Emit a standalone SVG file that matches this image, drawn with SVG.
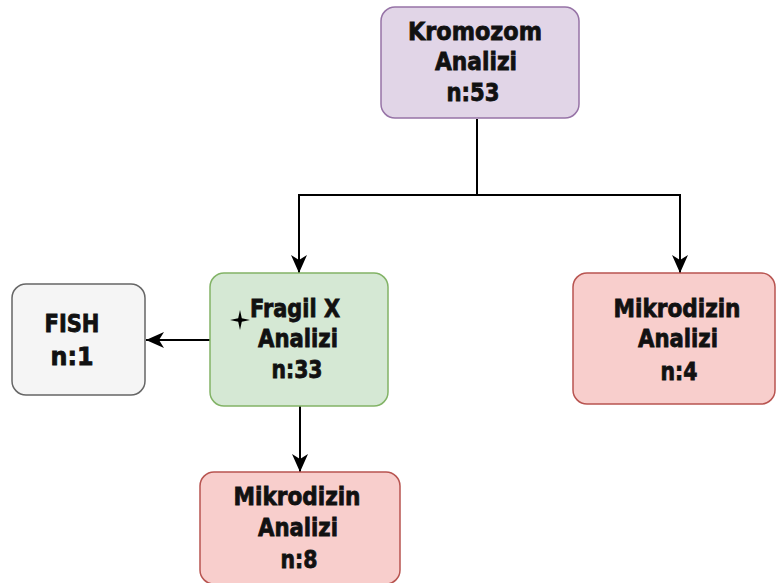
<svg xmlns="http://www.w3.org/2000/svg" width="776" height="583" viewBox="0 0 776 583">
<style>
.t{font-family:"DejaVu Sans","Liberation Sans",sans-serif;font-weight:bold;font-size:24px;fill:#111;stroke:#111;stroke-width:0.8;text-anchor:middle}
.c{fill:none;stroke:#000;stroke-width:2}
</style>
<defs>
<marker id="a" markerWidth="20" markerHeight="18" refX="18" refY="8" orient="auto" markerUnits="userSpaceOnUse">
<path d="M0,0 L18,8 L0,16 L5,8 Z" fill="#000"/>
</marker>
</defs>
<rect width="776" height="583" fill="#fff"/>
<g id="connectors">
<path class="c" d="M477,119 V195 H299 V273" marker-end="url(#a)"/>
<path class="c" d="M477,195 H680 V273" marker-end="url(#a)"/>
<path class="c" d="M210,340 H146" marker-end="url(#a)"/>
<path class="c" d="M300,406 V472" marker-end="url(#a)"/>
</g>
<g id="kromozom">
<rect x="381" y="7" width="198" height="111" rx="14" fill="#e1d5e7" stroke="#9673a6" stroke-width="1.5"/>
<text class="t" x="475" y="40" textLength="134" lengthAdjust="spacingAndGlyphs">Kromozom</text>
<text class="t" x="476" y="70" textLength="82" lengthAdjust="spacingAndGlyphs">Analizi</text>
<text class="t" x="473" y="101" textLength="53" lengthAdjust="spacingAndGlyphs">n:53</text>
</g>
<g id="fragil">
<rect x="210" y="273" width="178" height="133" rx="14" fill="#d5e8d4" stroke="#82b366" stroke-width="1.5"/>
<text class="t" x="295" y="317" textLength="90" lengthAdjust="spacingAndGlyphs">Fragil X</text>
<text class="t" x="298" y="347" textLength="80" lengthAdjust="spacingAndGlyphs">Analizi</text>
<text class="t" x="297" y="378" textLength="51" lengthAdjust="spacingAndGlyphs">n:33</text>
<path d="M240,310 L241.8,318.2 L250,320 L241.8,321.8 L240,330 L238.2,321.8 L230,320 L238.2,318.2 Z" fill="#000"/>
</g>
<g id="fish">
<rect x="12" y="284" width="133" height="111" rx="14" fill="#f5f5f5" stroke="#666666" stroke-width="1.5"/>
<text class="t" x="72" y="332" textLength="55" lengthAdjust="spacingAndGlyphs">FISH</text>
<text class="t" x="72" y="365" textLength="43" lengthAdjust="spacingAndGlyphs">n:1</text>
</g>
<g id="mikro4">
<rect x="573" y="273" width="202" height="131" rx="14" fill="#f8cecc" stroke="#b85450" stroke-width="1.5"/>
<text class="t" x="677" y="317" textLength="127" lengthAdjust="spacingAndGlyphs">Mikrodizin</text>
<text class="t" x="678" y="347" textLength="80" lengthAdjust="spacingAndGlyphs">Analizi</text>
<text class="t" x="679" y="380" textLength="37" lengthAdjust="spacingAndGlyphs">n:4</text>
</g>
<g id="mikro8">
<rect x="200" y="472" width="200" height="112" rx="14" fill="#f8cecc" stroke="#b85450" stroke-width="1.5"/>
<text class="t" x="297" y="505" textLength="127" lengthAdjust="spacingAndGlyphs">Mikrodizin</text>
<text class="t" x="298" y="536" textLength="80" lengthAdjust="spacingAndGlyphs">Analizi</text>
<text class="t" x="299" y="568" textLength="37" lengthAdjust="spacingAndGlyphs">n:8</text>
</g>
</svg>
